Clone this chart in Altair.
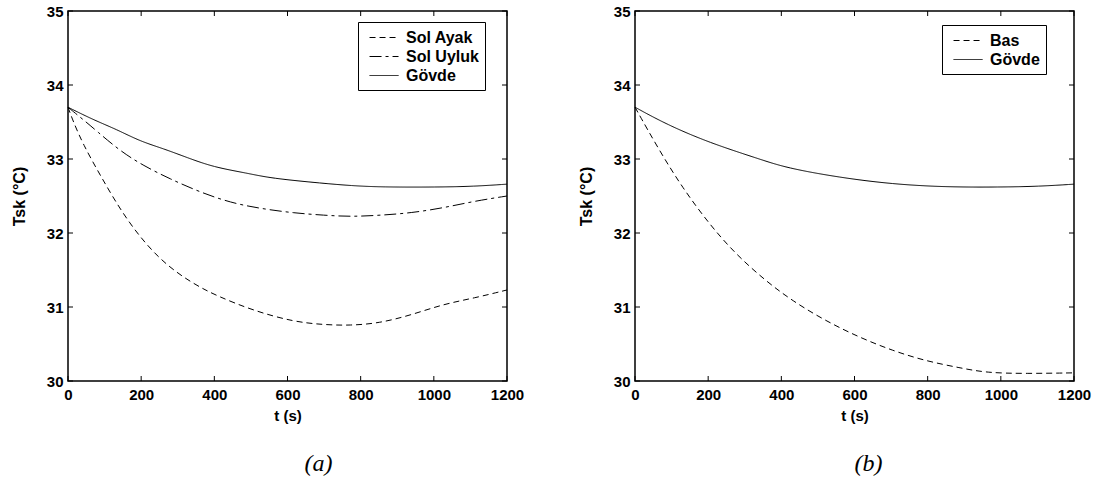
import altair as alt
import pandas as pd

# ---- data ----
x_ticks = [0, 200, 400, 600, 800, 1000, 1200]
y_ticks = [30, 31, 32, 33, 34, 35]

# panel (a)
t_ayak = [0, 14, 41, 88, 161, 252, 343, 407, 507, 617, 700, 770, 850, 937, 1027, 1110, 1200]
T_ayak = [33.70, 33.51, 33.20, 32.78, 32.16, 31.62, 31.31, 31.15, 30.95, 30.80, 30.76, 30.75, 30.78, 30.89, 31.04, 31.12, 31.23]

t_uyluk = [0, 47, 78, 142, 206, 279, 362, 444, 526, 617, 700, 773, 855, 937, 1027, 1110, 1200]
T_uyluk = [33.70, 33.51, 33.38, 33.11, 32.91, 32.73, 32.55, 32.41, 32.33, 32.27, 32.24, 32.22, 32.24, 32.27, 32.34, 32.43, 32.50]

t_govde_a = [0, 69, 133, 197, 261, 325, 398, 489, 553, 700, 773, 855, 1010, 1110, 1200]
T_govde_a = [33.70, 33.53, 33.40, 33.24, 33.14, 33.02, 32.89, 32.81, 32.74, 32.67, 32.64, 32.62, 32.62, 32.63, 32.66]

# panel (b)
t_bas = [0, 67, 130, 203, 276, 358, 431, 522, 613, 704, 795, 886, 960, 1068, 1200]
T_bas = [33.70, 33.11, 32.61, 32.12, 31.71, 31.35, 31.08, 30.81, 30.59, 30.41, 30.27, 30.18, 30.11, 30.10, 30.11]

t_govde_b = [0, 85, 203, 340, 413, 559, 704, 850, 996, 1105, 1200]
T_govde_b = [33.70, 33.47, 33.22, 33.00, 32.88, 32.75, 32.66, 32.62, 32.62, 32.63, 32.66]

series_a = ["Sol Ayak", "Sol Uyluk", "Gövde"]
series_b = ["Bas", "Gövde"]


def frame(pairs):
    rows = []
    for name, ts, Ts in pairs:
        for t, T in zip(ts, Ts):
            rows.append({"t": t, "T": T, "series": name})
    return pd.DataFrame(rows)


df_a = frame([("Sol Ayak", t_ayak, T_ayak), ("Sol Uyluk", t_uyluk, T_uyluk), ("Gövde", t_govde_a, T_govde_a)])
df_b = frame([("Bas", t_bas, T_bas), ("Gövde", t_govde_b, T_govde_b)])

W, H = 439, 370
FONT = "Liberation Sans"

x_scale = alt.Scale(domain=[0, 1200], nice=False, zero=False)
y_scale = alt.Scale(domain=[30, 35], nice=False, zero=False)

x_axis = alt.Axis(values=x_ticks, format="d", ticks=False, domain=False, grid=False, title="t (s)",
                  labelFont=FONT, labelFontWeight="bold", labelFontSize=15, labelColor="black",
                  labelPadding=6, titleFont=FONT, titleFontWeight="bold", titleFontSize=15,
                  titleColor="black", titlePadding=6, labelOverlap=False, labelFlush=False)
y_axis = alt.Axis(values=y_ticks, format="d", ticks=False, domain=False, grid=False, title="Tsk (°C)",
                  labelFont=FONT, labelFontWeight="bold", labelFontSize=15, labelColor="black",
                  labelPadding=5, titleFont=FONT, titleFontWeight="bold", titleFontSize=16,
                  titleColor="black", titlePadding=19, labelOverlap=False, labelFlush=False)

xt = pd.DataFrame({"v": x_ticks})
yt = pd.DataFrame({"v": y_ticks})

# legend sample: a horizontal stroke, longer than the nominal symbol box
LEG_SYMBOL = "M-0.44,0L2.78,0"


def panel(df, order, dashes, caption, lx, ly, cdx):
    lines = alt.Chart(df).mark_line(color="black", strokeWidth=1, interpolate="basis").encode(
        x=alt.X("t:Q", scale=x_scale, axis=x_axis),
        y=alt.Y("T:Q", scale=y_scale, axis=y_axis),
        strokeDash=alt.StrokeDash(
            "series:N",
            sort=order,
            scale=alt.Scale(domain=order, range=dashes),
            legend=alt.Legend(title=None, orient="none", legendX=lx, legendY=ly,
                              strokeColor="black", fillColor="white", padding=6,
                              cornerRadius=0, labelFont=FONT, labelFontWeight="bold",
                              labelFontSize=16, labelColor="black", symbolType=LEG_SYMBOL,
                              symbolSize=324, symbolStrokeWidth=1, symbolStrokeColor="black",
                              symbolFillColor="transparent",
                              labelOffset=23, rowPadding=1),
        ),
    )
    xb = alt.Chart(xt).mark_rule(color="black", strokeWidth=1).encode(
        x=alt.X("v:Q", scale=x_scale, axis=x_axis), y=alt.value(H), y2=alt.value(H - 5))
    xtop = alt.Chart(xt).mark_rule(color="black", strokeWidth=1).encode(
        x=alt.X("v:Q", scale=x_scale, axis=x_axis), y=alt.value(0), y2=alt.value(5))
    yl = alt.Chart(yt).mark_rule(color="black", strokeWidth=1).encode(
        y=alt.Y("v:Q", scale=y_scale, axis=y_axis), x=alt.value(0), x2=alt.value(5))
    yr = alt.Chart(yt).mark_rule(color="black", strokeWidth=1).encode(
        y=alt.Y("v:Q", scale=y_scale, axis=y_axis), x=alt.value(W), x2=alt.value(W - 5))
    return alt.layer(xb, xtop, yl, yr, lines).properties(
        width=W, height=H,
        title=alt.TitleParams(caption, orient="bottom", font="Liberation Serif", fontStyle="italic",
                              fontWeight="normal", fontSize=24, color="black", offset=29,
                              anchor="middle", dx=cdx),
    )


dash_a = [[6, 4], [12, 4, 3, 4], [1, 0]]
dash_b = [[6, 4], [1, 0]]

left = panel(df_a, series_a, dash_a, "(a)", 290, 11, 31)
right = panel(df_b, series_b, dash_b, "(b)", 307, 14, 14)

chart = alt.hconcat(left, right, spacing=52).resolve_scale(strokeDash="independent").resolve_legend(
    strokeDash="independent"
).properties(padding={"left": 10, "top": 3, "right": 0, "bottom": 0}, background="white").configure_view(
    stroke="black", strokeWidth=1.5
)

chart.save("out.html", embed_options={"renderer": "svg", "actions": False})
